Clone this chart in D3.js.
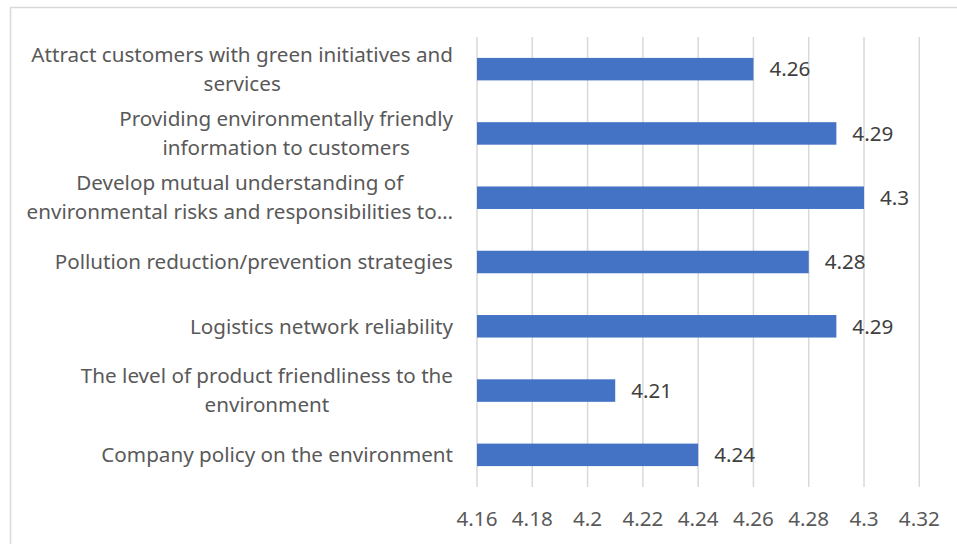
<!DOCTYPE html>
<html>
<head>
<meta charset="utf-8">
<script src="https://cdn.jsdelivr.net/npm/d3@7"></script>
<style>
  body { margin: 0; background: #fff; }
  svg { display: block; }
</style>
</head>
<body>
<svg id="chart" width="957" height="544"></svg>
<script>
// categories top to bottom, line breaks as in the picture
var categories = [
    "Attract customers with green initiatives and\nservices",
    "Providing environmentally friendly\ninformation to customers",
    "Develop mutual understanding of\nenvironmental risks and responsibilities to\u2026",
    "Pollution reduction/prevention strategies",
    "Logistics network reliability",
    "The level of product friendliness to the\nenvironment",
    "Company policy on the environment"
];
var values = [4.26, 4.29, 4.3, 4.28, 4.29, 4.21, 4.24];
var valueLabels = ["4.26", "4.29", "4.3", "4.28", "4.29", "4.21", "4.24"];
var ticks = [4.16, 4.18, 4.2, 4.22, 4.24, 4.26, 4.28, 4.3, 4.32];
var tickLabels = ["4.16", "4.18", "4.2", "4.22", "4.24", "4.26", "4.28", "4.3", "4.32"];

var svg = d3.select("#chart");
var fontFam = "'Noto Sans', 'Open Sans', sans-serif";
var textCol = "#595959";

// chart border (only top and left visible in frame)
svg.append("rect")
    .attr("x", 10.5).attr("y", 7.5)
    .attr("width", 960).attr("height", 560)
    .attr("fill", "none")
    .attr("stroke", "#d9d9d9")
    .attr("stroke-width", 1.5);

var plotLeft = 477, plotRight = 919.3, plotTop = 37, plotBottom = 487;

var x = d3.scaleLinear().domain([4.16, 4.32]).range([plotLeft, plotRight]);
var y = d3.scaleBand().domain(d3.range(categories.length))
    .range([plotTop, plotBottom]).paddingInner(0.65).paddingOuter(0.325);

// find font size so that a reference label is about 352px wide
var probe = svg.append("text").attr("font-family", fontFam).attr("font-size", 20)
    .text("Company policy on the environment");
var fs = 20 * 352 / probe.node().getComputedTextLength();
probe.remove();

// gridlines
svg.append("g").selectAll("line").data(ticks).enter().append("line")
    .attr("x1", function (d) { return x(d); })
    .attr("x2", function (d) { return x(d); })
    .attr("y1", plotTop).attr("y2", plotBottom)
    .attr("stroke", "#d9d9d9").attr("stroke-width", 1.5);

// bars
svg.append("g").selectAll("rect").data(values).enter().append("rect")
    .attr("x", x(4.16))
    .attr("y", function (d, i) { return y(i); })
    .attr("width", function (d) { return x(d) - x(4.16); })
    .attr("height", y.bandwidth())
    .attr("fill", "#4472c4");

// value labels
svg.append("g").selectAll("text").data(values).enter().append("text")
    .attr("x", function (d) { return x(d) + 16; })
    .attr("y", function (d, i) { return y(i) + y.bandwidth() / 2; })
    .attr("dy", "0.35em")
    .attr("font-family", fontFam).attr("font-size", fs)
    .attr("fill", "#404040")
    .text(function (d, i) { return valueLabels[i]; });

// tick labels
svg.append("g").selectAll("text").data(ticks).enter().append("text")
    .attr("x", function (d) { return x(d); })
    .attr("y", 519)
    .attr("dy", "0.35em")
    .attr("text-anchor", "middle")
    .attr("font-family", fontFam).attr("font-size", fs)
    .attr("fill", textCol)
    .text(function (d, i) { return tickLabels[i]; });

// category labels, centred lines on the band
var lh = 29;
var cat = svg.append("g").selectAll("text").data(categories).enter().append("text")
    .attr("font-family", fontFam).attr("font-size", fs)
    .attr("fill", textCol)
    .attr("text-anchor", "middle");

cat.each(function (d, i) {
    var lines = d.split("\n");
    var cy = y(i) + y.bandwidth() / 2;
    var t = d3.select(this);
    // measure widest line to right-align the block at 453
    var widths = lines.map(function (l) {
        var p = svg.append("text").attr("font-family", fontFam).attr("font-size", fs).text(l);
        var w = p.node().getComputedTextLength();
        p.remove();
        return w;
    });
    var wmax = d3.max(widths);
    var cx = 453 - wmax / 2;
    lines.forEach(function (l, k) {
        t.append("tspan")
            .attr("x", cx)
            .attr("y", cy + (k - (lines.length - 1) / 2) * lh)
            .attr("dy", "0.35em")
            .text(l);
    });
});
</script>
</body>
</html>
